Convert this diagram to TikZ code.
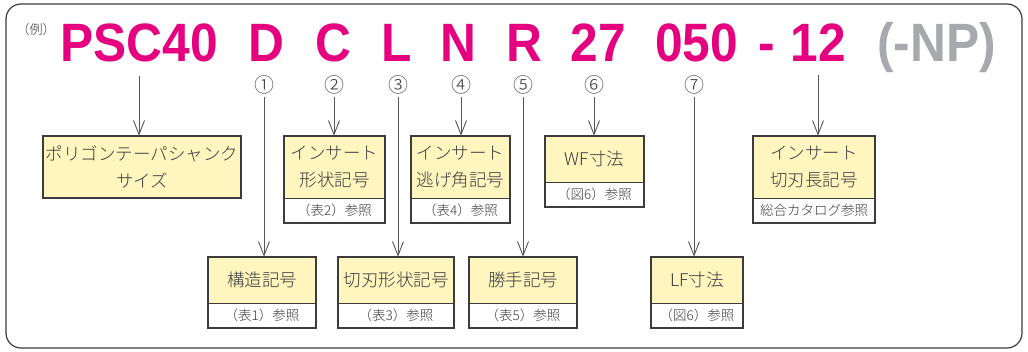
\documentclass[tikz,border=0pt]{standalone}
\usepackage{fontspec}
\setmainfont{Liberation Sans}
\newfontfamily\jpfont{Noto Sans CJK JP Light}
\newfontfamily\codefont{Liberation Sans}[FakeStretch=0.92]
\usetikzlibrary{positioning,arrows.meta}
\definecolor{codepink}{HTML}{E4007F}
\definecolor{codegray}{HTML}{A7A9AC}
\definecolor{boxfill}{HTML}{FFF5BF}
\definecolor{boxline}{HTML}{3C3C3C}
\definecolor{txtgray}{HTML}{3A3A3A}
\definecolor{linegray}{HTML}{555555}

\begin{document}
\begin{tikzpicture}[x=1pt,y=-1pt]
	\tikzstyle{every node}=[inner sep=0pt]
	\tikzstyle{codetext}=[anchor=base,text=codepink,font=\codefont\bfseries\fontsize{54}{54}\selectfont]
	\tikzstyle{numtext}=[text=txtgray,font=\jpfont\fontsize{20}{20}\selectfont]
	\tikzstyle{namebox}=[fill=boxfill,draw=boxline,line width=0.6pt,text=txtgray,align=center,
		font=\jpfont\fontsize{17.5}{27}\selectfont]
	\tikzstyle{refbox}=[fill=white,draw=boxline,line width=0.6pt,text=txtgray,minimum height=24pt,
		font=\jpfont\fontsize{13.5}{16}\selectfont]
	\tikzstyle{boxframe}=[draw=boxline,line width=1.8pt]
	\tikzstyle{arr}=[draw=linegray,line width=0.9pt,-{Straight Barb[length=14pt,width=11pt]}]
	\useasboundingbox (0,0) rectangle (1028,351);
	\draw[boxline,line width=1.2pt,rounded corners=15pt] (6,4) rectangle (1022,348);
	\node[text=txtgray,font=\jpfont\fontsize{13}{13}\selectfont] (rei) at (36,30) {（例）};
	\node[codetext] (psc) at (139,61) {PSC40};
	\node[codetext] (d) at (266.5,61) {D};
	\node[codetext] (c) at (333,61) {C};
	\node[codetext] (l) at (396.5,61) {L};
	\node[codetext] (n) at (458,61) {N};
	\node[codetext] (r) at (524,61) {R};
	\node[codetext] (wfnum) at (598.5,61) {27};
	\node[codetext] (lfnum) at (696.5,61) {050};
	\node[codetext] (dash) at (766.5,61) {-};
	\node[codetext] (twelve) at (818,61) {12};
	\node[codetext,text=codegray] (np) at (936.5,61) {(-NP)};
	\node[numtext] (n1) at (264,85) {①};
	\node[numtext] (n2) at (334,85) {②};
	\node[numtext] (n3) at (398,85) {③};
	\node[numtext] (n4) at (461,85) {④};
	\node[numtext] (n5) at (523,85) {⑤};
	\node[numtext] (n6) at (594,85) {⑥};
	\node[numtext] (n7) at (694,85) {⑦};
	\node[namebox,minimum width=198pt,minimum height=62pt] (poly) at (142,167) {ポリゴンテーパシャンク\\サイズ};
	\node[namebox,minimum width=101pt,minimum height=62pt] (keijo) at (334.5,167) {インサート\\形状記号};
	\node[refbox,minimum width=101pt,below=0pt of keijo] (keijoref) {（表2）参照};
	\node[namebox,minimum width=99pt,minimum height=62pt] (nige) at (460.5,167) {インサート\\逃げ角記号};
	\node[refbox,minimum width=99pt,below=0pt of nige] (nigeref) {（表4）参照};
	\node[namebox,minimum width=99pt,minimum height=46pt] (wf) at (594.5,159) {WF寸法};
	\node[refbox,minimum width=99pt,below=0pt of wf] (wfref) {（図6）参照};
	\node[namebox,minimum width=122pt,minimum height=62pt] (hacho) at (814,167) {インサート\\切刃長記号};
	\node[refbox,minimum width=122pt,below=0pt of hacho] (hachoref) {総合カタログ参照};
	\node[namebox,minimum width=108pt,minimum height=46pt] (kozo) at (262,280) {構造記号};
	\node[refbox,minimum width=108pt,below=0pt of kozo] (kozoref) {（表1）参照};
	\node[namebox,minimum width=116pt,minimum height=46pt] (kiriha) at (396,280) {切刃形状記号};
	\node[refbox,minimum width=116pt,below=0pt of kiriha] (kiriharef) {（表3）参照};
	\node[namebox,minimum width=108pt,minimum height=46pt] (katte) at (523,280) {勝手記号};
	\node[refbox,minimum width=108pt,below=0pt of katte] (katteref) {（表5）参照};
	\node[namebox,minimum width=92pt,minimum height=46pt] (lf) at (697,280) {LF寸法};
	\node[refbox,minimum width=92pt,below=0pt of lf] (lfref) {（図6）参照};
	\draw[boxframe] (poly.north west) rectangle (poly.south east);
	\foreach \a/\b in {keijo/keijoref,nige/nigeref,wf/wfref,hacho/hachoref,kozo/kozoref,
		kiriha/kiriharef,katte/katteref,lf/lfref}
		\draw[boxframe] (\a.north west) rectangle (\b.south east);
	\draw[arr,shorten <=14pt] (psc.south) -- (psc.south |- poly.north);
	\draw[arr,shorten <=14pt] (twelve.south) -- (twelve.south |- hacho.north);
	\foreach \a/\b in {n1/kozo,n2/keijo,n3/kiriha,n4/nige,n5/katte,n6/wf,n7/lf}
		\draw[arr,shorten <=3pt] (\a.south) -- (\a.south |- \b.north);
\end{tikzpicture}
\end{document}
